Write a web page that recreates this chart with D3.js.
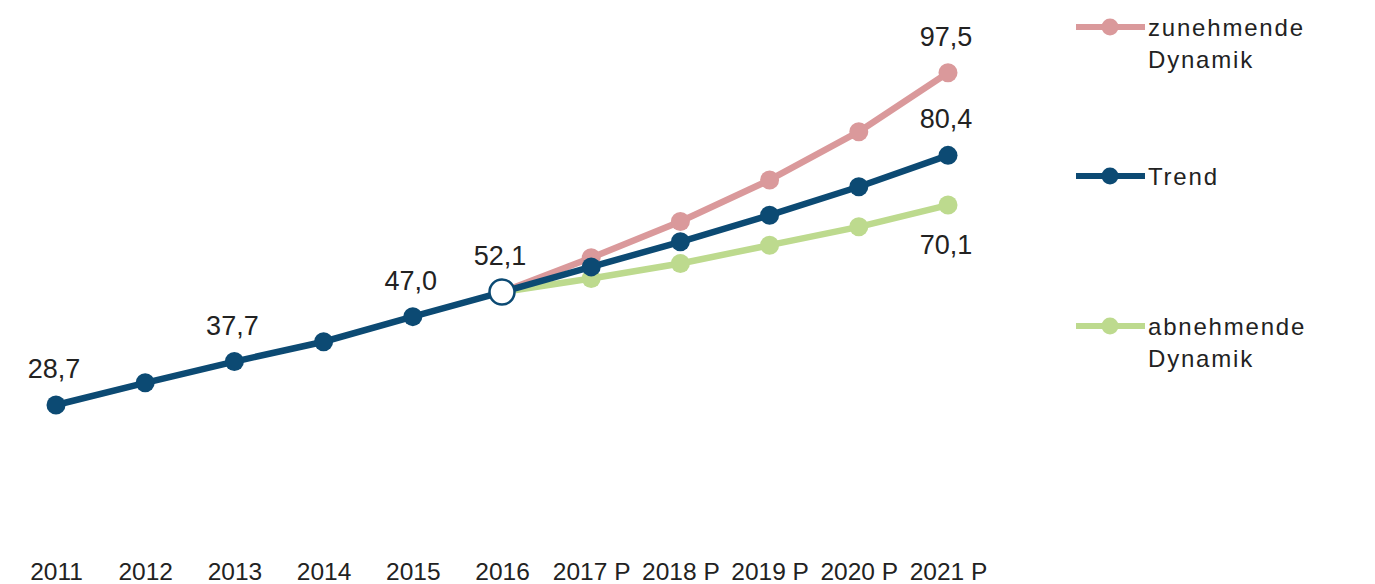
<!DOCTYPE html>
<html><head><meta charset="utf-8">
<script src="https://cdn.jsdelivr.net/npm/d3@7"></script>
<style>
html,body{margin:0;padding:0;background:#fff;}
svg text{font-family:"Liberation Sans",Arial,sans-serif;fill:#222;}
</style></head>
<body>
<svg id="c" width="1375" height="584"></svg>
<script>
const years = ["2011","2012","2013","2014","2015","2016","2017 P","2018 P","2019 P","2020 P","2021 P"];
const history = [28.7, 33.3, 37.7, 41.8, 47.0, 52.1];
const historyYears = years.slice(0, 6);
const projYears = years.slice(5);
const zunehmende = [52.1, 59.2, 66.7, 75.3, 85.3, 97.5];
const trend = [52.1, 57.3, 62.5, 68.0, 73.9, 80.4];
const abnehmende = [52.1, 54.9, 58.0, 61.8, 65.6, 70.1];
const valueLabels = [
  {year:"2011", v:28.7, text:"28,7", pos:"above"},
  {year:"2013", v:37.7, text:"37,7", pos:"above"},
  {year:"2015", v:47.0, text:"47,0", pos:"above"},
  {year:"2016", v:52.1, text:"52,1", pos:"above"},
  {year:"2021 P", v:97.5, text:"97,5", pos:"above"},
  {year:"2021 P", v:80.4, text:"80,4", pos:"above"},
  {year:"2021 P", v:70.1, text:"70,1", pos:"below"}
];
const legendItems = [
  {name:["zunehmende","Dynamik"], color:"#da999b"},
  {name:["Trend"], color:"#0c4a73"},
  {name:["abnehmende","Dynamik"], color:"#bdda8e"}
];

const svg = d3.select("#c");
const x = d3.scalePoint().domain(years).range([56, 948]);
const y = d3.scaleLinear().domain([0, 100]).range([543.6, 60.7]);
const line = d3.line().x(d => x(d[0])).y(d => y(d[1]));

function series(ys, vals, color) {
  const pts = ys.map((yr, i) => [yr, vals[i]]);
  svg.append("path").datum(pts).attr("d", line)
    .attr("fill", "none").attr("stroke", color).attr("stroke-width", 6.5)
    .attr("stroke-linejoin", "round");
  svg.selectAll(null).data(pts.slice(1)).enter().append("circle")
    .attr("cx", d => x(d[0])).attr("cy", d => y(d[1])).attr("r", 9.5)
    .attr("fill", color);
}
series(projYears, zunehmende, legendItems[0].color);
series(projYears, abnehmende, legendItems[2].color);
series(projYears, trend, legendItems[1].color);

// history line
const hpts = historyYears.map((yr, i) => [yr, history[i]]);
svg.append("path").datum(hpts).attr("d", line)
  .attr("fill", "none").attr("stroke", "#0c4a73").attr("stroke-width", 6.5);
svg.selectAll(null).data(hpts.slice(0, 5)).enter().append("circle")
  .attr("cx", d => x(d[0])).attr("cy", d => y(d[1])).attr("r", 9.5)
  .attr("fill", "#0c4a73");
svg.append("circle").attr("cx", x("2016")).attr("cy", y(52.1)).attr("r", 12.5)
  .attr("fill", "#fff").attr("stroke", "#0c4a73").attr("stroke-width", 2.5);

// value labels
svg.selectAll(null).data(valueLabels).enter().append("text")
  .attr("x", d => x(d.year) - 2)
  .attr("y", d => d.pos === "above" ? y(d.v) - 27 : y(d.v) + 49)
  .attr("text-anchor", "middle").attr("font-size", 27)
  .text(d => d.text);

// x axis
const ax = svg.append("g").attr("transform", "translate(0,557)")
  .call(d3.axisBottom(x).tickSize(0).tickPadding(0));
ax.select(".domain").remove();
ax.selectAll("text").attr("font-size", 24.5).attr("dy", "0.95em")
  .style("font-family", "'Liberation Sans',Arial,sans-serif").attr("fill", "#222");

// legend
const legY = [27, 176, 326];
legendItems.forEach((it, i) => {
  const g = svg.append("g").attr("transform", `translate(0,${legY[i]})`);
  g.append("line").attr("x1", 1076).attr("x2", 1145).attr("y1", 0).attr("y2", 0)
    .attr("stroke", it.color).attr("stroke-width", 6);
  g.append("circle").attr("cx", 1110).attr("cy", 0).attr("r", 8.5).attr("fill", it.color);
  it.name.forEach((t, j) => {
    g.append("text").attr("x", 1148).attr("y", 9 + j * 32)
      .attr("font-size", 24).attr("letter-spacing", 1.8).text(t);
  });
});
</script>
</body></html>
